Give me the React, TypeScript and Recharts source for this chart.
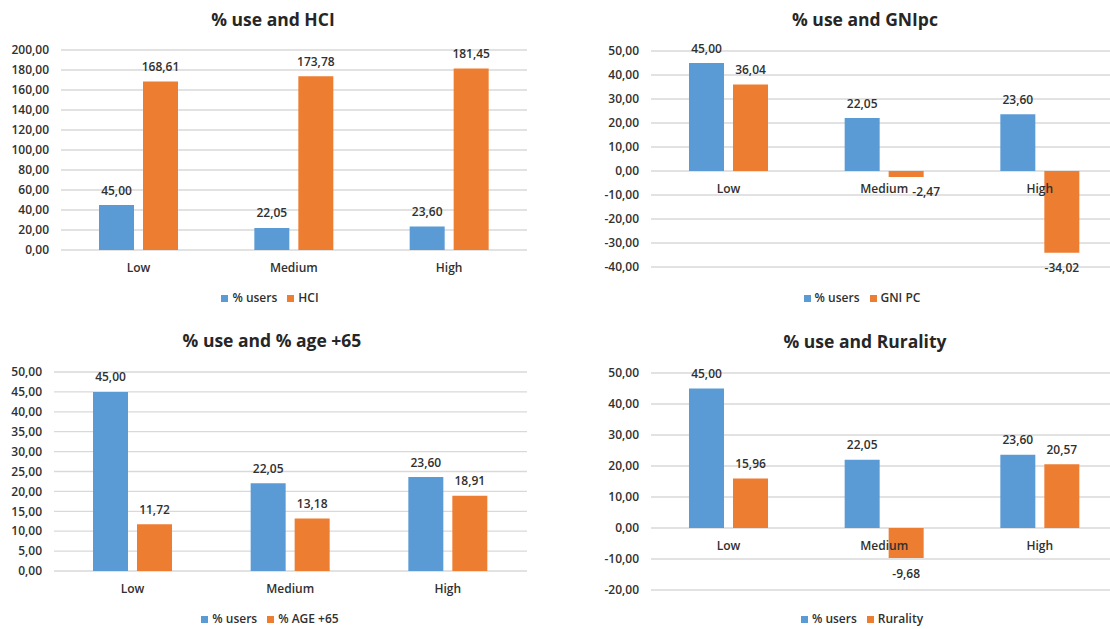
import React from 'react';
import {
  BarChart,
  Bar,
  XAxis,
  YAxis,
  CartesianGrid,
  Legend,
  LabelList,
} from 'recharts';

const CATEGORIES = ['Low', 'Medium', 'High'];
const USERS = [45.0, 22.05, 23.6];
const HCI = [168.61, 173.78, 181.45];
const GNI_PC = [36.04, -2.47, -34.02];
const AGE_65 = [11.72, 13.18, 18.91];
const RURALITY = [15.96, -9.68, 20.57];

const HCI_TICKS = [0, 20, 40, 60, 80, 100, 120, 140, 160, 180, 200];
const GNI_TICKS = [-40, -30, -20, -10, 0, 10, 20, 30, 40, 50];
const AGE_TICKS = [0, 5, 10, 15, 20, 25, 30, 35, 40, 45, 50];
const RURAL_TICKS = [-20, -10, 0, 10, 20, 30, 40, 50];

const BLUE = '#5B9BD5';
const ORANGE = '#ED7D31';
const TEXT = '#303030';
const FONT = '"Open Sans", sans-serif';
const BAR_SIZE = 35;
const BAR_GAP = 9;

const fmt = (v: number) => v.toFixed(2).replace('.', ',');

const makeData = (other: number[]) =>
  CATEGORIES.map((cat, i) => ({ cat, users: USERS[i], other: other[i] }));

// value label: above positive bars, below negative ones
const ValueLabel = (props: any) => {
  const { x, y, width, height, value } = props;
  const top = Math.min(y, y + height);
  const bottom = Math.max(y, y + height);
  let cx = x + width / 2;
  let ty = top - 10.5;
  if (value < 0) {
    ty = bottom + 19.5;
    // short negative bars: nudge right so it clears the category label
    if (Math.abs(height) < 10) cx += 20;
  }
  return (
    <text x={cx} y={ty} textAnchor="middle" fill={TEXT} fontSize={12} fontWeight={600} fontFamily={FONT}>
      {fmt(value)}
    </text>
  );
};

// category name drawn on the zero line, on top of the bars (hung off the second bar)
const CategoryLabel = (props: any) => {
  const { x, y, height, value } = props;
  const zeroY = y + height;
  const cx = x - BAR_GAP / 2;
  return (
    <text x={cx} y={zeroY + 22} textAnchor="middle" fill={TEXT} fontSize={12} fontWeight={600} fontFamily={FONT}>
      {value}
    </text>
  );
};

interface Box { left: number; top: number; width: number; height: number }
interface Plot { left: number; right: number; top: number; bottom: number }

interface PanelProps {
  title: string;
  other: number[];
  otherName: string;
  ticks: number[];
  box: Box;
  plot: Plot;
  titleX: number;
  titleY: number;
  legendX: number;
  legendY: number;
}

const Panel: React.FC<PanelProps> = ({ title, other, otherName, ticks, box, plot, titleX, titleY, legendX, legendY }) => {
  const data = makeData(other);
  const margin = {
    top: plot.top - box.top,
    bottom: box.top + box.height - plot.bottom,
    left: 0,
    right: box.left + box.width - plot.right,
  };
  return (
    <>
      <div
        style={{
          position: 'absolute',
          left: titleX - 200,
          top: titleY - 13,
          width: 400,
          textAlign: 'center',
          fontFamily: FONT,
          fontSize: 17.5,
          fontWeight: 700,
          lineHeight: '26px',
          color: '#262626',
        }}
      >
        {title}
      </div>
      <div style={{ position: 'absolute', left: box.left, top: box.top }}>
        <BarChart width={box.width} height={box.height} data={data} margin={margin} barSize={BAR_SIZE} barGap={BAR_GAP}>
          <CartesianGrid vertical={false} stroke="#D9D9D9" strokeWidth={1.3} />
          <XAxis dataKey="cat" hide />
          <YAxis
            width={plot.left - box.left}
            domain={[ticks[0], ticks[ticks.length - 1]]}
            ticks={ticks}
            interval={0}
            tickFormatter={fmt}
            axisLine={false}
            tickLine={false}
            tickSize={0}
            tickMargin={12}
            tick={{ fill: TEXT, fontSize: 12, fontWeight: 600, fontFamily: FONT }}
          />
          <Bar dataKey="users" name="% users" fill={BLUE} isAnimationActive={false}>
            <LabelList dataKey="users" content={ValueLabel} />
          </Bar>
          <Bar dataKey="other" name={otherName} fill={ORANGE} isAnimationActive={false}>
            <LabelList dataKey="other" content={ValueLabel} />
            <LabelList dataKey="cat" content={CategoryLabel} />
          </Bar>
          <Legend
            verticalAlign="middle"
            align="center"
            iconType="square"
            iconSize={7}
            itemSorter={(entry: any) => (entry.dataKey === 'users' ? 0 : 1)}
            wrapperStyle={{
              top: legendY - box.top - 9,
              left: legendX - box.left - 150,
              width: 300,
              fontFamily: FONT,
              fontSize: 12,
              fontWeight: 600,
              lineHeight: '18px',
            }}
            formatter={(v: string) => <span style={{ color: TEXT }}>{v}</span>}
          />
        </BarChart>
      </div>
    </>
  );
};

export default function App() {
  return (
    <div
      style={{
        position: 'absolute',
        left: 0,
        top: 0,
        width: 1110,
        height: 629,
        overflow: 'hidden',
        background: '#fff',
      }}
    >
      <Panel
        title="% use and HCI"
        other={HCI}
        otherName="HCI"
        ticks={HCI_TICKS}
        box={{ left: 0, top: 0, width: 548, height: 315 }}
        plot={{ left: 61, right: 527, top: 50, bottom: 250 }}
        titleX={273}
        titleY={19}
        legendX={275}
        legendY={298}
      />
      <Panel
        title="% use and GNIpc"
        other={GNI_PC}
        otherName="GNI PC"
        ticks={GNI_TICKS}
        box={{ left: 590, top: 0, width: 528, height: 315 }}
        plot={{ left: 651, right: 1118, top: 51, bottom: 267 }}
        titleX={865}
        titleY={19}
        legendX={867}
        legendY={298}
      />
      <Panel
        title="% use and % age +65"
        other={AGE_65}
        otherName="% AGE +65"
        ticks={AGE_TICKS}
        box={{ left: 0, top: 315, width: 548, height: 314 }}
        plot={{ left: 54, right: 527, top: 372, bottom: 571 }}
        titleX={272}
        titleY={340}
        legendX={275}
        legendY={619}
      />
      <Panel
        title="% use and Rurality"
        other={RURALITY}
        otherName="Rurality"
        ticks={RURAL_TICKS}
        box={{ left: 590, top: 315, width: 528, height: 314 }}
        plot={{ left: 651, right: 1118, top: 373, bottom: 590 }}
        titleX={865}
        titleY={341}
        legendX={867}
        legendY={619}
      />
    </div>
  );
}
